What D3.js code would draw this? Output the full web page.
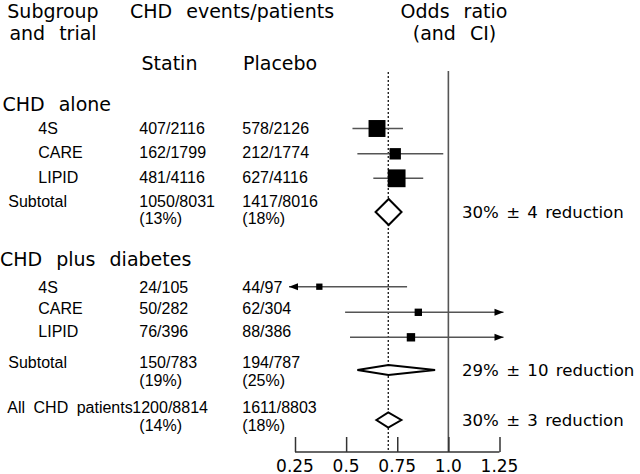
<!DOCTYPE html>
<html><head><meta charset="utf-8">
<script src="https://cdn.jsdelivr.net/npm/d3@7/dist/d3.min.js"></script>
<style>html,body{margin:0;padding:0;background:#fff;}svg{display:block;}</style>
</head><body><svg id="c" width="640" height="474"></svg>
<script>
// ---- data ----
const groupLabels = ["CHD alone", "CHD plus diabetes"];
const rowLabels = ["4S", "CARE", "LIPID", "Subtotal", "4S", "CARE", "LIPID", "Subtotal", "All CHD patients"];
const rowKinds = ["trial", "trial", "trial", "subtotal", "trial", "trial", "trial", "subtotal", "total"];
const statinEvents = [407, 162, 481, 1050, 24, 50, 76, 150, 1200];
const statinPatients = [2116, 1799, 4116, 8031, 105, 282, 396, 783, 8814];
const placeboEvents = [578, 212, 627, 1417, 44, 62, 88, 194, 1611];
const placeboPatients = [2126, 1774, 4116, 8016, 97, 304, 386, 787, 8803];
const oddsRatio = [0.651, 0.740, 0.747, 0.708, 0.369, 0.853, 0.817, 0.707, 0.706];
const ciLow = [0.531, 0.555, 0.633, 0.644, 0.20, 0.495, 0.519, 0.555, 0.648];
const ciHigh = [0.778, 0.975, 0.877, 0.771, 0.798, 1.40, 1.40, 0.935, 0.770];
const reductionPct = [30, 29, 30];
const reductionSD = [4, 10, 3];
const axisTicks = [0.25, 0.5, 0.75, 1.0, 1.25];
const axisTickLabels = ["0.25", "0.5", "0.75", "1.0", "1.25"];

// ---- layout ----
const svg = d3.select("#c");
const x = d3.scaleLinear().domain([0.25, 1.25]).range([295, 499.5]);
const idx = d3.range(rowLabels.length);
const yMark = d3.scaleOrdinal().domain(idx).range([128.5, 153.8, 178.3, 212, 286.7, 312.3, 337.3, 370, 420]);
const yText = d3.scaleOrdinal().domain(idx).range([134, 158.3, 183.3, 206.7, 292.7, 314, 336.7, 368.3, 413.3]);
const boxSize = d3.scaleSqrt().domain([0, 1108]).range([0, 15.3]);
const diamondH = {3: 26, 7: 10, 8: 15};
const big = "DejaVu Sans", small = "Liberation Sans";
const axisY = 452, plotTop = 72;

function txt(s, xx, yy, opt = {}) {
  return svg.append("text").attr("x", xx).attr("y", yy)
    .attr("font-family", opt.f || big).attr("font-size", opt.s || 19)
    .attr("word-spacing", opt.ws != null ? opt.ws : 8)
    .attr("text-anchor", opt.a || "start").attr("fill", "#000").text(s);
}

// headers
txt("Subgroup", 53, 17.5, {a: "middle"});
txt("and trial", 53, 40, {a: "middle"});
txt("CHD events/patients", 130, 17.5);
txt("Odds ratio", 454, 17.5, {a: "middle"});
txt("(and CI)", 454.5, 40, {a: "middle"});
txt("Statin", 141.5, 70);
txt("Placebo", 243, 70);
txt(groupLabels[0], 2.5, 111);
txt(groupLabels[1], 0, 266);

// table rows
const fs = 16;
const pct = (e, n) => "(" + Math.round(100 * e / n) + "%)";
idx.forEach(i => {
  const k = rowKinds[i];
  const lx = k === "trial" ? 38.3 : (k === "subtotal" ? 8.3 : 7.3);
  txt(rowLabels[i], lx, yText(i), {f: small, s: fs, ws: 4});
  const sx = k === "total" ? 132.3 : 139.3;
  txt(statinEvents[i] + "/" + statinPatients[i], sx, yText(i), {f: small, s: fs, ws: 0});
  txt(placeboEvents[i] + "/" + placeboPatients[i], 242.3, yText(i), {f: small, s: fs, ws: 0});
  if (k !== "trial") {
    txt(pct(statinEvents[i], statinPatients[i]), 139.3, yText(i) + 17.3, {f: small, s: fs, ws: 0});
    txt(pct(placeboEvents[i], placeboPatients[i]), 242.3, yText(i) + 17.3, {f: small, s: fs, ws: 0});
  }
});

// reference lines
svg.append("line").attr("x1", x(1)).attr("x2", x(1)).attr("y1", plotTop - 1).attr("y2", axisY)
  .attr("stroke", "#555").attr("stroke-width", 1.6);
svg.append("line").attr("x1", x(oddsRatio[8])).attr("x2", x(oddsRatio[8])).attr("y1", plotTop).attr("y2", axisY)
  .attr("stroke", "#000").attr("stroke-width", 1.2).attr("stroke-dasharray", "2,2");

// axis
const axis = d3.axisTop(x).tickValues(axisTicks).tickSize(15).tickFormat("");
const ag = svg.append("g").attr("transform", `translate(0,${axisY})`).call(axis);
ag.select(".domain").attr("d", `M${x(0.25)},0H${x(1.25)}`).attr("stroke", "#333").attr("stroke-width", 1.5);
ag.selectAll(".tick line").attr("stroke", "#333").attr("stroke-width", 1.5);
axisTicks.forEach((t, j) => txt(axisTickLabels[j], x(t), 471.5, {s: 17, a: "middle", ws: 0}));

// CIs and boxes for trial rows
const dMin = x.domain()[0], dMax = x.domain()[1];
idx.filter(i => rowKinds[i] === "trial").forEach(i => {
  const y = yMark(i);
  const lo = ciLow[i] < dMin ? x(dMin) - 6 : x(ciLow[i]);
  const hi = ciHigh[i] > dMax ? x(dMax) + 4 : x(ciHigh[i]);
  svg.append("line").attr("x1", lo).attr("x2", hi).attr("y1", y).attr("y2", y)
    .attr("stroke", "#555").attr("stroke-width", 1.6);
  if (ciLow[i] < dMin) {
    svg.append("path").attr("d", `M${lo},${y}l9,-3.5v7z`).attr("fill", "#000");
  }
  if (ciHigh[i] > dMax) {
    svg.append("path").attr("d", `M${hi},${y}l-9,-3.5v7z`).attr("fill", "#000");
  }
  const s = 2.5 + boxSize(statinEvents[i] + placeboEvents[i]);
  svg.append("rect").attr("x", x(oddsRatio[i]) - s / 2).attr("y", y - s / 2)
    .attr("width", s).attr("height", s).attr("fill", "#000");
});

// diamonds
let r = 0;
idx.filter(i => rowKinds[i] !== "trial").forEach(i => {
  const y = yMark(i), h = diamondH[i] / 2;
  const c = x(oddsRatio[i]), l = x(ciLow[i]), rr = x(ciHigh[i]);
  svg.append("path").attr("d", `M${l},${y}L${c},${y - h}L${rr},${y}L${c},${y + h}Z`)
    .attr("fill", "#fff").attr("stroke", "#000").attr("stroke-width", 2);
  txt(`${reductionPct[r]}% ± ${reductionSD[r]} reduction`, 462, y + 6, {s: 16.6, ws: 2});
  r++;
});
</script></body></html>
